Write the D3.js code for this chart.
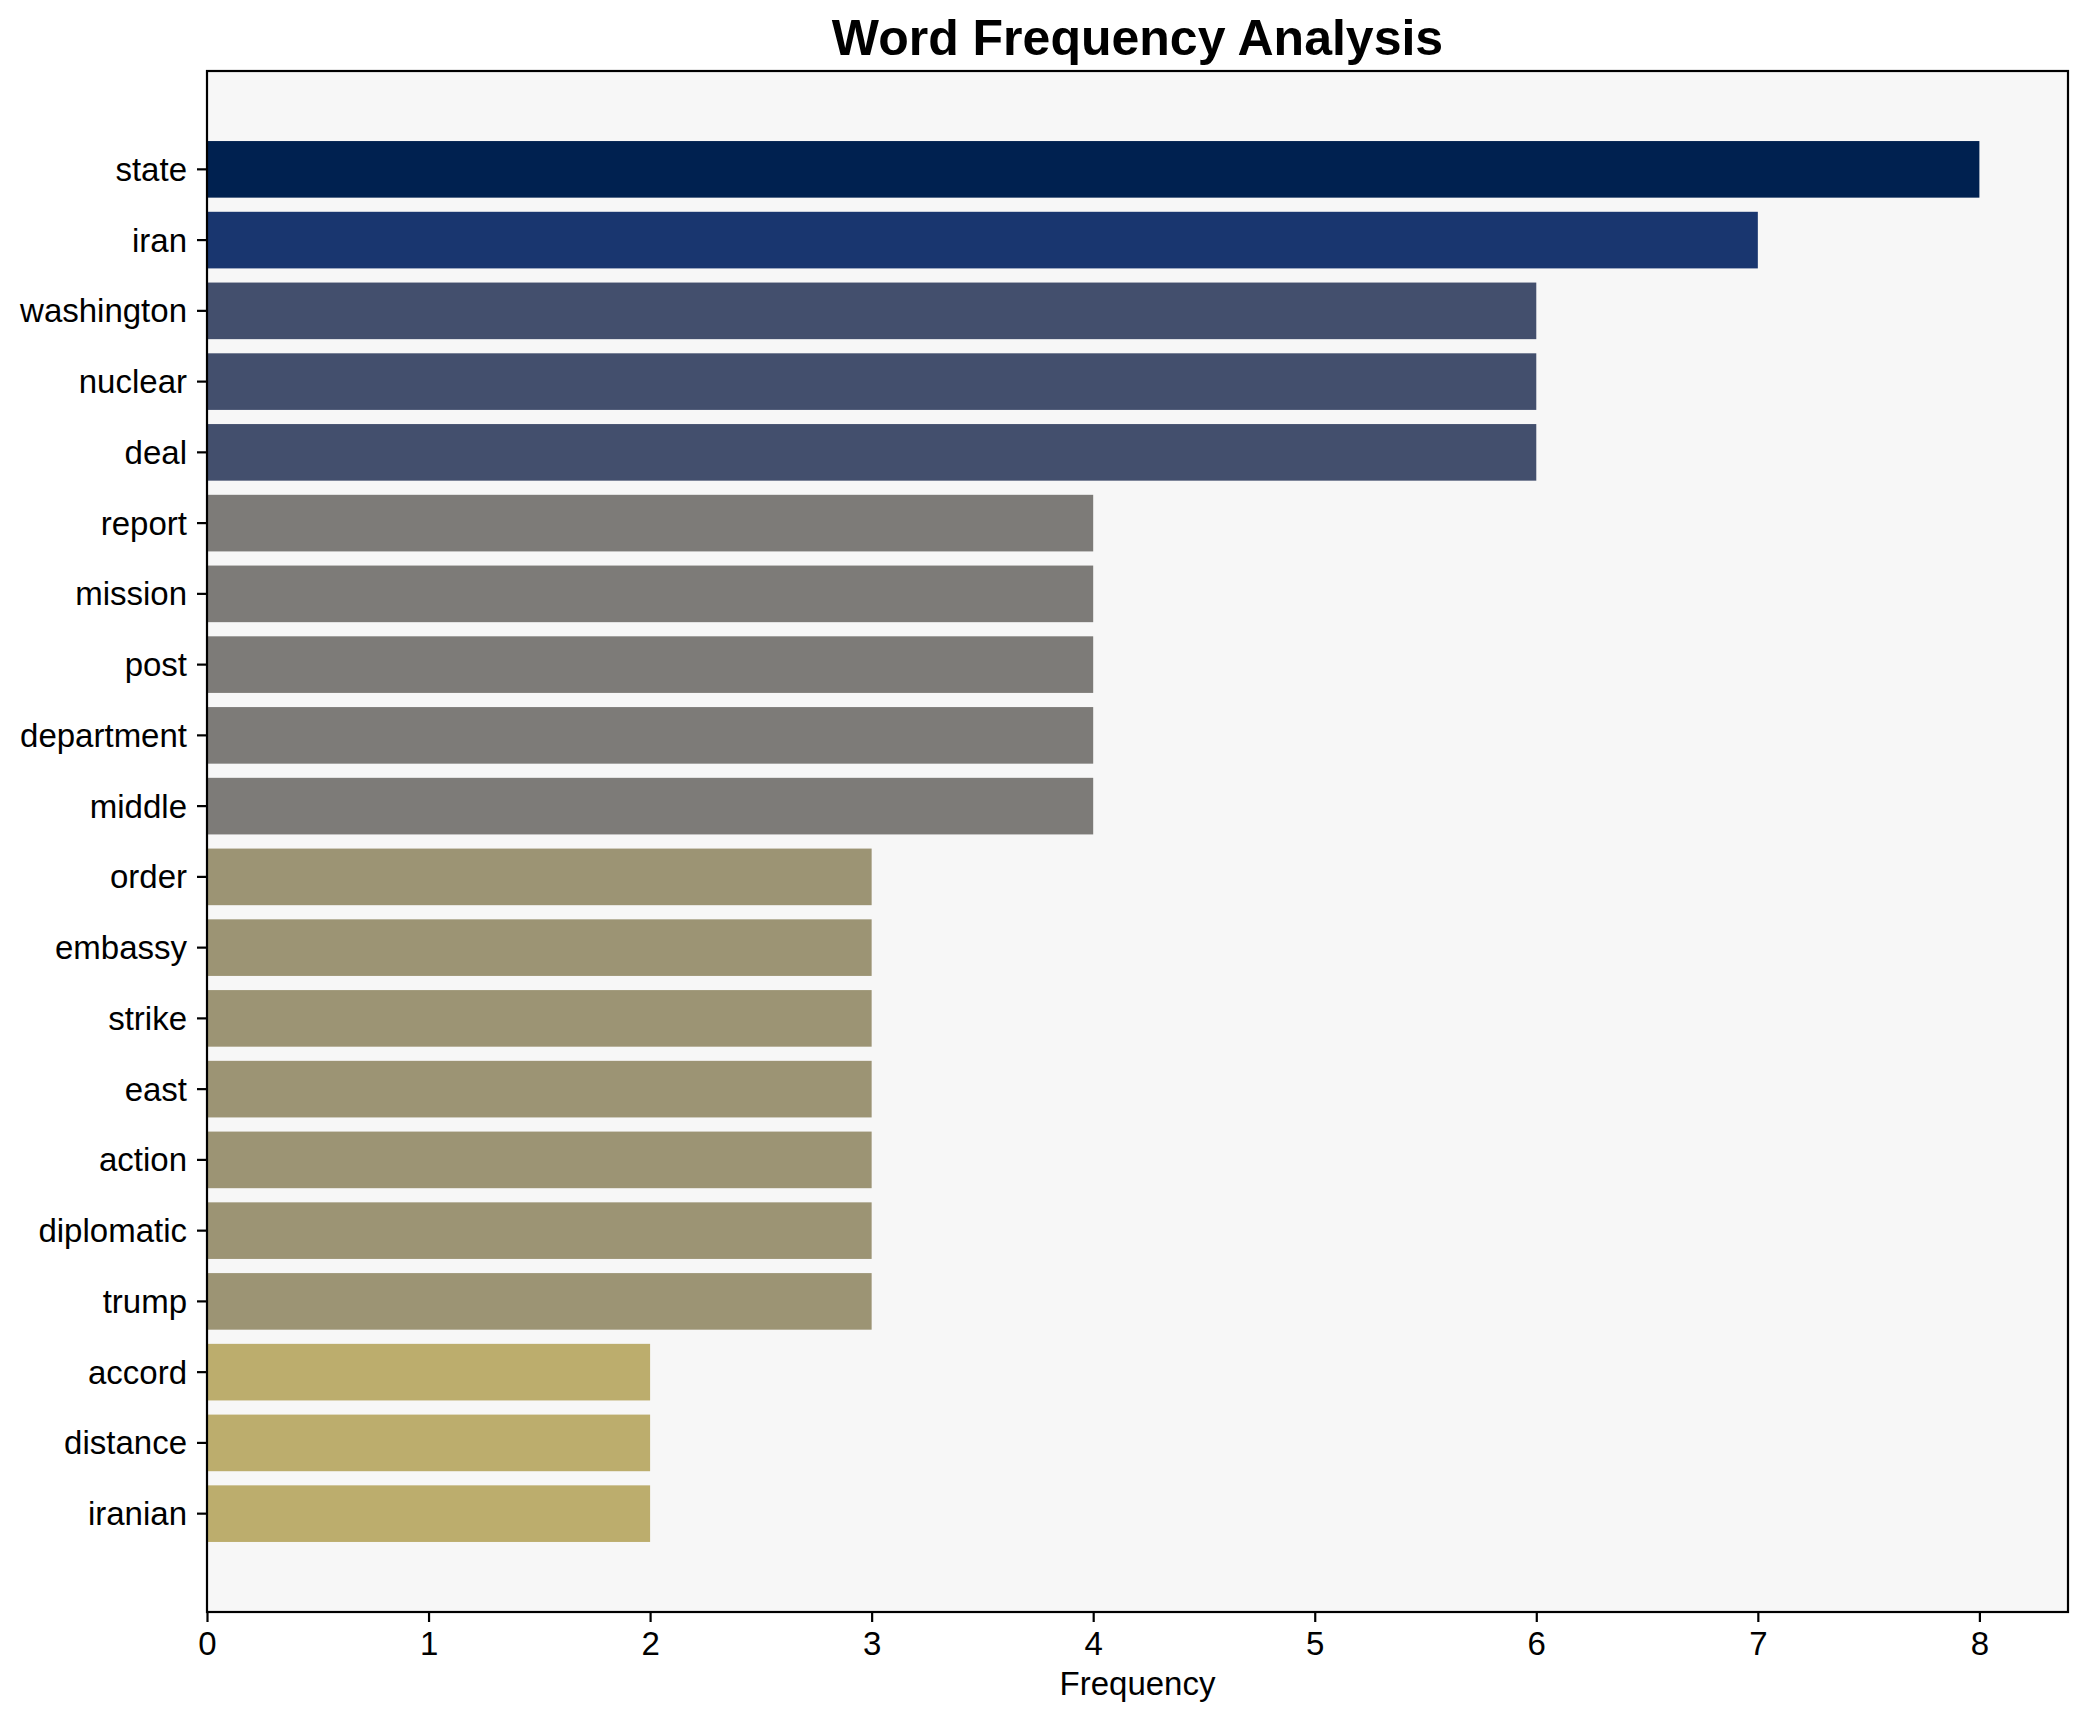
<!DOCTYPE html>
<html>
<head>
<meta charset="utf-8">
<script src="https://cdn.jsdelivr.net/npm/d3@7"></script>
<style>
  body { margin: 0; background: #ffffff; }
  text { font-family: "Liberation Sans", Arial, sans-serif; fill: #000; }
</style>
</head>
<body>
<svg id="chart" width="2088" height="1722"></svg>
<script>
// word list, top to bottom
var words = ["state", "iran", "washington", "nuclear", "deal", "report", "mission", "post",
  "department", "middle", "order", "embassy", "strike", "east", "action", "diplomatic",
  "trump", "accord", "distance", "iranian"];
var counts = [8, 7, 6, 6, 6, 4, 4, 4, 4, 4, 3, 3, 3, 3, 3, 3, 3, 2, 2, 2];
var xTicks = [0, 1, 2, 3, 4, 5, 6, 7, 8];

(function () {
  var plotL = 207, plotR = 2068, plotT = 71, plotB = 1612;

  var svg = d3.select("#chart");

  // plot background
  svg.append("rect")
    .attr("x", plotL).attr("y", plotT)
    .attr("width", plotR - plotL).attr("height", plotB - plotT)
    .attr("fill", "#f7f7f7");

  var maxCount = d3.max(counts);
  var x = d3.scaleLinear().domain([0, maxCount * 1.05]).range([plotL, plotR]);

  // same margins matplotlib puts around barh
  var n = words.length;
  var pad = 0.05 * (n - 1 + 0.8);
  var y = d3.scaleLinear().domain([-0.4 - pad, n - 1 + 0.4 + pad]).range([plotT, plotB]);

  // cividis-ish shades (d3's cividis came out too dark)
  var color = d3.scaleOrdinal()
    .domain([8, 7, 6, 4, 3, 2])
    .range(["#002150", "#19366f", "#434f6d", "#7d7b78", "#9c9474", "#bcad6d"]);

  svg.append("g").selectAll("rect")
    .data(words)
    .enter().append("rect")
    .attr("x", x(0))
    .attr("y", function (d, i) { return y(i - 0.4); })
    .attr("width", function (d, i) { return x(counts[i]) - x(0); })
    .attr("height", function (d, i) { return y(i + 0.4) - y(i - 0.4); })
    .attr("fill", function (d, i) { return color(counts[i]); });

  // y axis labels + ticks
  var yg = svg.append("g");
  words.forEach(function (w, i) {
    yg.append("line")
      .attr("x1", plotL - 10).attr("x2", plotL)
      .attr("y1", y(i)).attr("y2", y(i))
      .attr("stroke", "#000").attr("stroke-width", 2.2);
    yg.append("text")
      .attr("x", plotL - 20).attr("y", y(i))
      .attr("dy", "0.35em")
      .attr("text-anchor", "end")
      .attr("font-size", 33)
      .text(w);
  });

  // x axis
  var xAxis = d3.axisBottom(x).tickValues(xTicks).tickFormat(d3.format("d"))
    .tickSize(10).tickPadding(10);
  var xg = svg.append("g").attr("transform", "translate(0," + plotB + ")").call(xAxis);
  xg.select(".domain").remove();
  xg.selectAll("line").attr("stroke", "#000").attr("stroke-width", 2.2);
  xg.selectAll("text").attr("font-size", 33).attr("font-family", "Liberation Sans, Arial, sans-serif")
    .attr("fill", "#000");

  // frame
  svg.append("rect")
    .attr("x", plotL).attr("y", plotT)
    .attr("width", plotR - plotL).attr("height", plotB - plotT)
    .attr("fill", "none").attr("stroke", "#000").attr("stroke-width", 2.2);

  svg.append("text")
    .attr("x", (plotL + plotR) / 2).attr("y", 1695)
    .attr("text-anchor", "middle")
    .attr("font-size", 33)
    .text("Frequency");

  svg.append("text")
    .attr("x", (plotL + plotR) / 2).attr("y", 55)
    .attr("text-anchor", "middle")
    .attr("font-size", 50)
    .attr("font-weight", "bold")
    .text("Word Frequency Analysis");
})();
</script>
</body>
</html>
